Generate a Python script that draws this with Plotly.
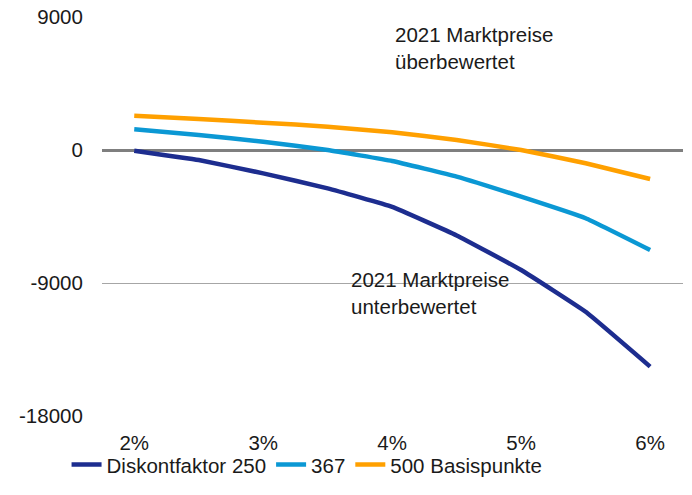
import plotly.graph_objects as go

x_vals = [2.0, 2.5, 3.0, 3.5, 4.0, 4.5, 5.0, 5.5, 6.0]
diskont_250 = [-50, -680, -1580, -2600, -3850, -5780, -8120, -10950, -14660]
diskont_367 = [1400, 1020, 560, 0, -745, -1800, -3160, -4620, -6770]
diskont_500 = [2320, 2100, 1850, 1580, 1200, 680, 0, -900, -1960]
names = ["Diskontfaktor 250", "367", "500 Basispunkte"]
colors = ["#1d2d8f", "#0b98d4", "#ffa000"]
x_ticks = [2, 3, 4, 5, 6]
x_tick_labels = ["2%", "3%", "4%", "5%", "6%"]
y_ticks = [9000, 0, -9000, -18000]
y_tick_labels = ["9000", "0", "-9000", "-18000"]

FONT = "Liberation Sans, Arial, sans-serif"

fig = go.Figure()
for ys, name, col in zip([diskont_250, diskont_367, diskont_500], names, colors):
    fig.add_trace(go.Scatter(x=x_vals, y=ys, mode="lines", name=name,
                             line=dict(color=col, width=4.5, shape="spline", smoothing=0.3)))

fig.add_annotation(x=0.5, y=0.99, xref="paper", yref="paper", xanchor="left", yanchor="top",
                   text="2021 Marktpreise<br>überbewertet", showarrow=False, align="left",
                   font=dict(family=FONT, size=20.5, color="#1a1a1a"))
fig.add_annotation(x=0.425, y=0.375, xref="paper", yref="paper", xanchor="left", yanchor="top",
                   text="2021 Marktpreise<br>unterbewertet", showarrow=False, align="left",
                   font=dict(family=FONT, size=20.5, color="#1a1a1a"))

fig.update_layout(
    width=692, height=495,
    margin=dict(l=102, r=9, t=17, b=79, autoexpand=False),
    paper_bgcolor="white", plot_bgcolor="white",
    font=dict(family=FONT, size=20.5, color="#1a1a1a"),
    showlegend=True,
    legend=dict(orientation="h", x=-0.061, xanchor="left", y=-0.072, yanchor="top",
                bgcolor="rgba(0,0,0,0)",
                font=dict(family=FONT, size=20.5), itemwidth=30, tracegroupgap=0),
    xaxis=dict(range=[1.75, 6.255], tickvals=x_ticks, ticktext=x_tick_labels,
               showgrid=False, zeroline=False, showline=False,
               ticks="outside", ticklen=8, tickcolor="rgba(0,0,0,0)"),
    yaxis=dict(range=[-18000, 9000], tickvals=y_ticks, ticktext=y_tick_labels,
               showgrid=True, gridcolor="#a6a6a6", gridwidth=1.3,
               zeroline=True, zerolinecolor="#7f7f7f", zerolinewidth=3,
               showline=False, ticks="outside", ticklen=14, tickcolor="rgba(0,0,0,0)"),
)

fig.write_html("out.html")
